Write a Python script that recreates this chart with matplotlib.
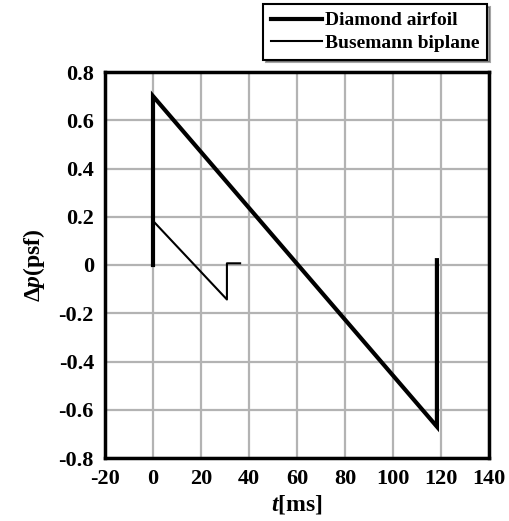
import matplotlib
matplotlib.use("Agg")
import matplotlib.pyplot as plt

# Data
diamond_t = [0, 0, 118.3, 118.3]
diamond_p = [0, 0.70, -0.67, 0.02]
busemann_t = [0, 0, 30.8, 30.8, 36.3]
busemann_p = [0, 0.183, -0.143, 0.007, 0.007]
xticks = [-20, 0, 20, 40, 60, 80, 100, 120, 140]
yticks = [-0.8, -0.6, -0.4, -0.2, 0, 0.2, 0.4, 0.6, 0.8]
ytick_labels = ['-0.8', '-0.6', '-0.4', '-0.2', '0', '0.2', '0.4', '0.6', '0.8']

plt.rcParams['font.family'] = ['Liberation Serif', 'DejaVu Serif']
plt.rcParams['font.weight'] = 'bold'
plt.rcParams['axes.unicode_minus'] = False
plt.rcParams['mathtext.fontset'] = 'custom'
plt.rcParams['mathtext.rm'] = 'Liberation Serif:bold'
plt.rcParams['mathtext.it'] = 'Liberation Serif:bold:italic'
plt.rcParams['mathtext.bf'] = 'Liberation Serif:bold'

fig = plt.figure(figsize=(5.10, 5.21), dpi=100)
ax = fig.add_axes([105/510, 1-458/521, (489-105)/510, (458-72)/521])

ax.plot(diamond_t, diamond_p, color='black', lw=3.0, label='Diamond airfoil', solid_joinstyle='miter')
ax.plot(busemann_t, busemann_p, color='black', lw=1.5, label='Busemann biplane')

ax.set_xlim(-20, 140)
ax.set_ylim(-0.8, 0.8)
ax.set_xticks(xticks)
ax.set_yticks(yticks)
ax.set_yticklabels(ytick_labels)
ax.grid(True, color='#b3b3b3', lw=1.6)
ax.set_axisbelow(True)
ax.tick_params(length=0, labelsize=16, pad=8)
for lab in ax.get_xticklabels() + ax.get_yticklabels():
    lab.set_fontweight('bold')
for s in ax.spines.values():
    s.set_linewidth(2.5)

ax.set_xlabel(r'$t$[ms]', fontsize=17, fontweight='bold', labelpad=3)
ax.set_ylabel(r'$\Delta p$(psf)', fontsize=17, fontweight='bold', labelpad=8)

leg = fig.legend(loc='upper right', bbox_to_anchor=(487/510, 1-4/521),
                 frameon=True, fancybox=False, shadow=True, fontsize=14,
                 handlelength=2.6, handletextpad=0.15, borderpad=0.4,
                 labelspacing=0.25, borderaxespad=0)
leg.get_frame().set_edgecolor('black')
leg.get_frame().set_linewidth(1.5)
for t in leg.get_texts():
    t.set_fontweight('bold')

fig.savefig('out.png', dpi=100)
